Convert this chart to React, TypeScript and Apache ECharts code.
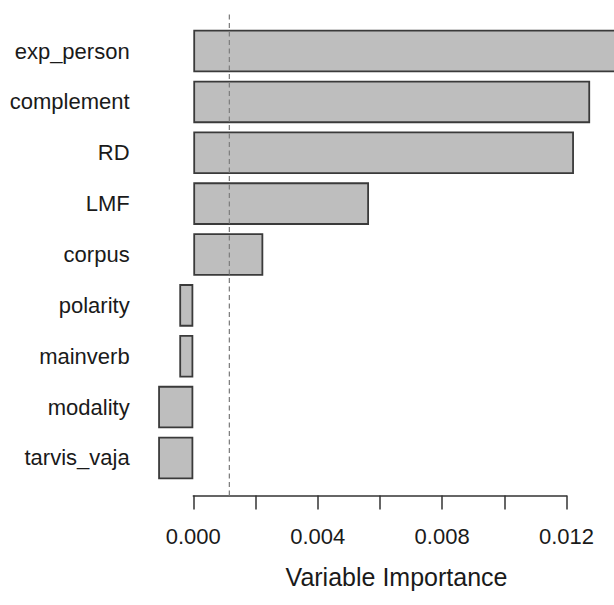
import React, { useEffect, useRef } from "react";
import * as echarts from "echarts";

const categories = [
  "exp_person",
  "complement",
  "RD",
  "LMF",
  "corpus",
  "polarity",
  "mainverb",
  "modality",
  "tarvis_vaja",
];
const importance = [0.0141, 0.01276, 0.01224, 0.00565, 0.00225, -0.00045, -0.00045, -0.00113, -0.00113];
const thresholdValue = 0.00116;
const axisTicks = [0, 0.002, 0.004, 0.006, 0.008, 0.01, 0.012];
const labelledTicks = ["0.000", "0.004", "0.008", "0.012"];
const xLabel = "Variable Importance";

export default function App() {
  const ref = useRef<HTMLDivElement>(null);
  useEffect(() => {
    if (!ref.current) return;
    const chart = echarts.init(ref.current, null, { renderer: "svg" });
    const font = "Liberation Sans, Arial, sans-serif";
    const xMin = -0.0015;
    const xMax = 0.0137;
    const zeroX = 193.3;
    const pxPerUnit = 31100;
    const gLeft = zeroX + xMin * pxPerUnit;
    const gWidth = (xMax - xMin) * pxPerUnit;
    chart.setOption({
      animation: false,
      backgroundColor: "#ffffff",
      grid: [
        { left: gLeft, width: gWidth, top: 25.6, height: 457.8 },
        { left: zeroX, width: 0.012 * pxPerUnit, top: 494.5, height: 1 },
        { left: gLeft, width: gWidth, top: 11, height: 484.5 },
      ],
      xAxis: [
        { gridIndex: 0, type: "value", min: xMin, max: xMax, show: false },
        {
          gridIndex: 1,
          type: "value",
          min: axisTicks[0],
          max: axisTicks[axisTicks.length - 1],
          interval: 0.002,
          position: "bottom",
          axisLine: { show: true, lineStyle: { color: "#333", width: 1.5 } },
          axisTick: { show: true, length: 14, lineStyle: { color: "#333", width: 1.5 } },
          splitLine: { show: false },
          axisLabel: {
            margin: 30,
            fontSize: 22,
            fontFamily: font,
            color: "#1a1a1a",
            showMinLabel: true,
            showMaxLabel: true,
            formatter: (v: number) => {
              const s = v.toFixed(3);
              return labelledTicks.indexOf(s) >= 0 ? s : "";
            },
          },
        },
        { gridIndex: 2, type: "value", min: xMin, max: xMax, show: false },
      ],
      yAxis: [
        {
          gridIndex: 0,
          type: "category",
          data: categories,
          inverse: true,
          axisLine: { show: false },
          axisTick: { show: false },
          splitLine: { show: false },
          axisLabel: {
            margin: 17,
            fontSize: 22,
            fontFamily: font,
            color: "#1a1a1a",
            align: "right",
          },
        },
        { gridIndex: 1, type: "value", show: false, min: 0, max: 1 },
        { gridIndex: 2, type: "value", show: false, min: 0, max: 1 },
      ],
      graphic: [
        {
          type: "text",
          x: 396.5,
          y: 577,
          style: {
            text: xLabel,
            fontSize: 25,
            fontFamily: font,
            fill: "#1a1a1a",
            textAlign: "center",
            textVerticalAlign: "middle",
          },
        },
      ],
      series: [
        {
          type: "bar",
          xAxisIndex: 0,
          yAxisIndex: 0,
          data: importance,
          barCategoryGap: "16.4%",
          clip: true,
          itemStyle: { color: "#bebebe", borderColor: "#3a3a3a", borderWidth: 1.8 },
        },
        {
          type: "line",
          xAxisIndex: 2,
          yAxisIndex: 2,
          data: [
            [thresholdValue, 0],
            [thresholdValue, 1],
          ],
          symbol: "none",
          lineStyle: { color: "#808080", width: 1.3, type: [5, 3.5] },
          z: 5,
        },
      ],
    });
    return () => chart.dispose();
  }, []);
  return (
    <div style={{ width: 614, height: 605, position: "absolute", left: 0, top: 0, overflow: "hidden" }}>
      <div ref={ref} style={{ width: 640, height: 605 }} />
    </div>
  );
}
